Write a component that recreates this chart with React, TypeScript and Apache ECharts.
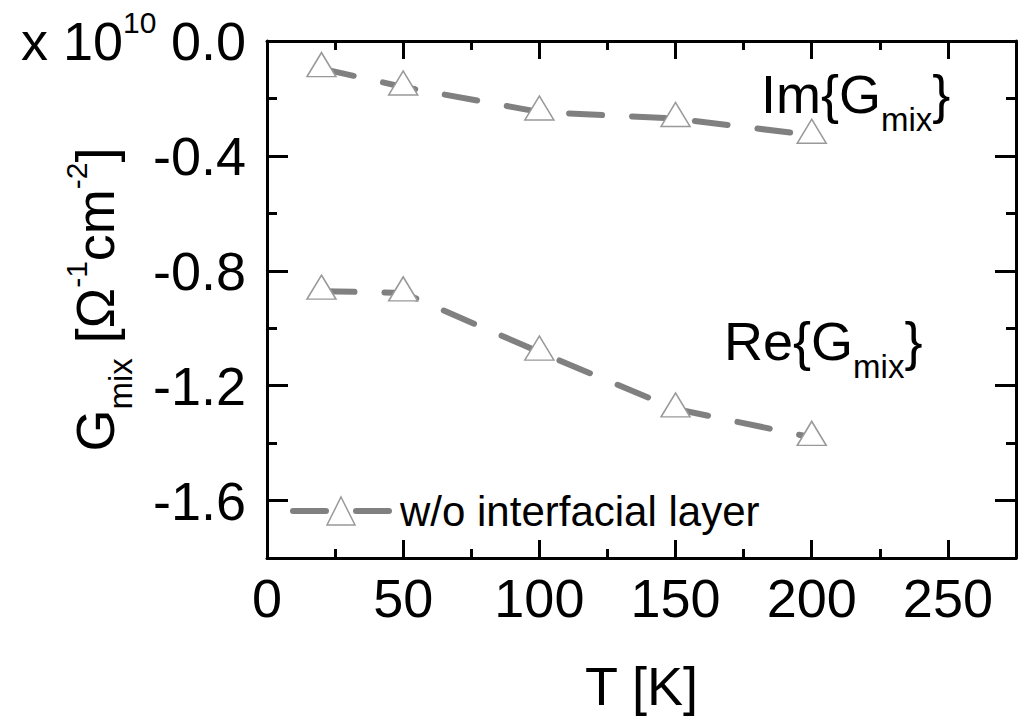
import React, { useEffect, useRef } from 'react';
import * as echarts from 'echarts';

const temperatures = [20, 50, 100, 150, 200];
const reValues = [-0.871, -0.877, -1.083, -1.281, -1.38];
const imValues = [-0.096, -0.16, -0.247, -0.27, -0.328];
const xMajorTicks = [0, 50, 100, 150, 200, 250];
const xMinorTicks = [25, 75, 125, 175, 225];
const yMajorTicks = [-1.6, -1.2, -0.8, -0.4, 0];
const yMinorTicks = [-1.8, -1.4, -1.0, -0.6, -0.2];
const seriesName = 'w/o interfacial layer';

const FONT = "'Liberation Sans', Arial, sans-serif";

const rich = {
  m: { fontSize: 54, fontFamily: FONT, color: '#000', lineHeight: 60 },
  s: { fontSize: 33, fontFamily: FONT, color: '#000', lineHeight: 10, padding: [50, 0, 0, 0] },
  p: { fontSize: 30, fontFamily: FONT, color: '#000', lineHeight: 10, padding: [0, 0, 38, 0] },
};

const lineStyle = { color: '#808080', width: 6, type: [33, 30], cap: 'round' };

function xAxisDef(position: string, ticks: number[], len: number, main: boolean, labels: boolean) {
  return {
    type: 'value',
    position,
    min: 0,
    max: 275,
    splitLine: { show: false },
    axisLine: { show: main, onZero: false, lineStyle: { color: '#000', width: 3 } },
    axisTick: { show: true, inside: true, length: len, customValues: ticks, lineStyle: { color: '#000', width: 3 } },
    axisLabel: labels
      ? { show: true, customValues: ticks, fontSize: 54, color: '#000', fontFamily: FONT, margin: 13 }
      : { show: false },
  };
}

function yAxisDef(position: string, ticks: number[], len: number, main: boolean, labels: boolean) {
  return {
    type: 'value',
    position,
    min: -1.8,
    max: 0,
    splitLine: { show: false },
    axisLine: { show: main, onZero: false, lineStyle: { color: '#000', width: 3 } },
    axisTick: { show: true, inside: true, length: len, customValues: ticks, lineStyle: { color: '#000', width: 3 } },
    axisLabel: labels
      ? {
          show: true,
          customValues: ticks,
          fontSize: 54,
          color: '#000',
          fontFamily: FONT,
          margin: 21,
          formatter: (v: number) => v.toFixed(1),
        }
      : { show: false },
  };
}

function makeSeries(values: number[]) {
  return {
    type: 'line',
    name: seriesName,
    data: temperatures.map((t, i) => [t, values[i]]),
    xAxisIndex: 0,
    yAxisIndex: 0,
    color: '#808080',
    symbol: 'triangle',
    symbolSize: [29, 24],
    symbolOffset: [0, -4],
    showSymbol: true,
    clip: false,
    lineStyle,
    itemStyle: { color: '#ffffff', borderColor: '#999999', borderWidth: 1.5 },
    emphasis: { disabled: true },
  };
}

function annotation(x: number, y: number, text: string) {
  return {
    type: 'text',
    x,
    y,
    style: {
      text,
      rich,
      fontSize: 54,
      fontFamily: FONT,
      fill: '#000',
      lineHeight: 60,
      align: 'left',
      verticalAlign: 'middle',
    },
  };
}

export default function App() {
  const ref = useRef<HTMLDivElement>(null);
  useEffect(() => {
    document.body.style.margin = '0';
    const chart = echarts.init(ref.current!, null, { renderer: 'svg' });
    const xMain: any = xAxisDef('bottom', xMajorTicks, 18, true, true);
    xMain.name = 'T [K]';
    xMain.nameLocation = 'middle';
    xMain.nameGap = 101;
    xMain.nameMoveOverlap = false;
    xMain.nameTextStyle = { fontSize: 54, color: '#000', fontFamily: FONT };
    const yMain: any = yAxisDef('left', yMajorTicks, 21, true, true);
    yMain.name = '{m|G}{s|mix}{m| [Ω}{p|-1}{m|cm}{p|-2}{m|]}';
    yMain.nameLocation = 'middle';
    yMain.nameGap = 142;
    yMain.nameMoveOverlap = false;
    yMain.nameTextStyle = { fontSize: 54, color: '#000', fontFamily: FONT, rich };
    chart.setOption({
      animation: false,
      backgroundColor: '#ffffff',
      textStyle: { fontFamily: FONT },
      grid: { left: 267, right: 6, top: 41, bottom: 162, outerBoundsMode: 'none', containLabel: false },
      xAxis: [
        xMain,
        xAxisDef('bottom', xMinorTicks, 9, false, false),
        xAxisDef('top', xMajorTicks, 18, true, false),
        xAxisDef('top', xMinorTicks, 9, false, false),
      ],
      yAxis: [
        yMain,
        yAxisDef('left', yMinorTicks, 10, false, false),
        yAxisDef('right', yMajorTicks, 21, true, false),
        yAxisDef('right', yMinorTicks, 10, false, false),
      ],
      legend: {
        show: true,
        left: 290,
        top: 490,
        padding: 0,
        itemWidth: 96,
        itemHeight: 35,
        itemGap: 0,
        selectedMode: false,
        data: [seriesName],
        lineStyle: { ...lineStyle },
        itemStyle: { color: '#ffffff', borderColor: '#999999', borderWidth: 1.5 },
        textStyle: { fontSize: 42, color: '#000', fontFamily: FONT, padding: [0, 0, 0, 6] },
      },
      graphic: [
        annotation(21, 41, '{m|x 10}{p|10}'),
        annotation(761, 94, '{m|Im{G}{s|mix}}'),
        annotation(724, 341, '{m|Re{G}{s|mix}}'),
      ],
      series: [makeSeries(imValues), makeSeries(reValues)],
    });
    return () => chart.dispose();
  }, []);
  return <div ref={ref} style={{ width: 1022, height: 720 }} />;
}
